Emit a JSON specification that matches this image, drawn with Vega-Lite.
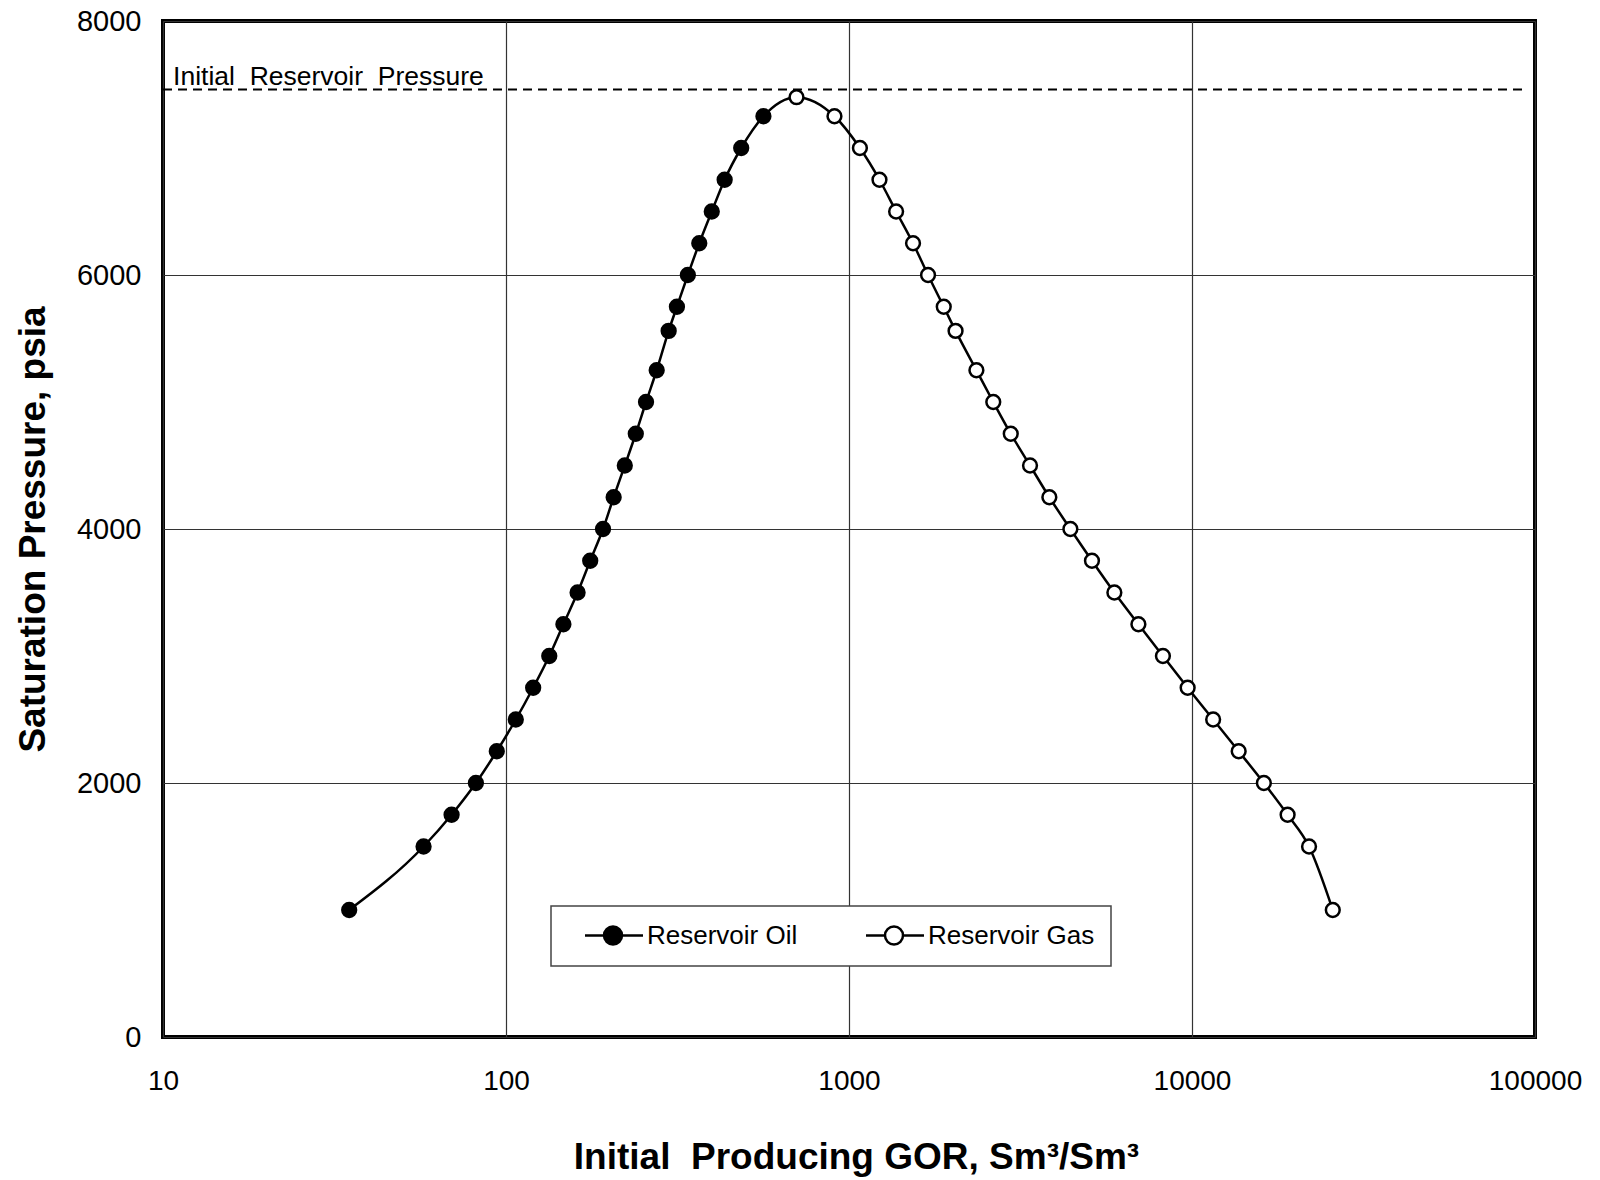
{
  "$schema": "https://vega.github.io/schema/vega-lite/v6.json",
  "width": 1372,
  "height": 1016,
  "autosize": {"type": "none"},
  "padding": {"left": 163, "top": 21, "right": 65, "bottom": 143},
  "background": "white",
  "config": {
    "font": "Liberation Sans",
    "view": {"stroke": "black", "strokeWidth": 4},
    "axis": {
      "labelFont": "Liberation Sans",
      "titleFont": "Liberation Sans",
      "labelColor": "black",
      "titleColor": "black",
      "labelFontSize": 28,
      "titleFontSize": 37,
      "titleFontWeight": "bold",
      "ticks": false,
      "domain": false,
      "grid": true,
      "gridColor": "#333333",
      "gridWidth": 1.2,
      "gridOpacity": 1
    }
  },
  "data": {
    "values": [
      {"fluid": "Reservoir Oil", "gor": 34.9, "p": 1000},
      {"fluid": "Reservoir Oil", "gor": 57.5, "p": 1500},
      {"fluid": "Reservoir Oil", "gor": 69.4, "p": 1750},
      {"fluid": "Reservoir Oil", "gor": 81.7, "p": 2000},
      {"fluid": "Reservoir Oil", "gor": 94, "p": 2250},
      {"fluid": "Reservoir Oil", "gor": 106.8, "p": 2500},
      {"fluid": "Reservoir Oil", "gor": 120, "p": 2750},
      {"fluid": "Reservoir Oil", "gor": 133.7, "p": 3000},
      {"fluid": "Reservoir Oil", "gor": 147, "p": 3250},
      {"fluid": "Reservoir Oil", "gor": 161.7, "p": 3500},
      {"fluid": "Reservoir Oil", "gor": 176, "p": 3750},
      {"fluid": "Reservoir Oil", "gor": 191.8, "p": 4000},
      {"fluid": "Reservoir Oil", "gor": 206, "p": 4250},
      {"fluid": "Reservoir Oil", "gor": 222, "p": 4500},
      {"fluid": "Reservoir Oil", "gor": 239, "p": 4750},
      {"fluid": "Reservoir Oil", "gor": 256, "p": 5000},
      {"fluid": "Reservoir Oil", "gor": 275, "p": 5250},
      {"fluid": "Reservoir Oil", "gor": 298, "p": 5560},
      {"fluid": "Reservoir Oil", "gor": 315, "p": 5750},
      {"fluid": "Reservoir Oil", "gor": 339, "p": 6000},
      {"fluid": "Reservoir Oil", "gor": 366, "p": 6250},
      {"fluid": "Reservoir Oil", "gor": 398, "p": 6500},
      {"fluid": "Reservoir Oil", "gor": 434, "p": 6750},
      {"fluid": "Reservoir Oil", "gor": 485, "p": 7000},
      {"fluid": "Reservoir Oil", "gor": 563, "p": 7250},
      {"fluid": "Reservoir Gas", "gor": 703, "p": 7400},
      {"fluid": "Reservoir Gas", "gor": 907, "p": 7250},
      {"fluid": "Reservoir Gas", "gor": 1076, "p": 7000},
      {"fluid": "Reservoir Gas", "gor": 1227, "p": 6750},
      {"fluid": "Reservoir Gas", "gor": 1372, "p": 6500},
      {"fluid": "Reservoir Gas", "gor": 1537, "p": 6250},
      {"fluid": "Reservoir Gas", "gor": 1700, "p": 6000},
      {"fluid": "Reservoir Gas", "gor": 1889, "p": 5750},
      {"fluid": "Reservoir Gas", "gor": 2045, "p": 5560},
      {"fluid": "Reservoir Gas", "gor": 2352, "p": 5250},
      {"fluid": "Reservoir Gas", "gor": 2634, "p": 5000},
      {"fluid": "Reservoir Gas", "gor": 2962, "p": 4750},
      {"fluid": "Reservoir Gas", "gor": 3371, "p": 4500},
      {"fluid": "Reservoir Gas", "gor": 3838, "p": 4250},
      {"fluid": "Reservoir Gas", "gor": 4420, "p": 4000},
      {"fluid": "Reservoir Gas", "gor": 5109, "p": 3750},
      {"fluid": "Reservoir Gas", "gor": 5938, "p": 3500},
      {"fluid": "Reservoir Gas", "gor": 6978, "p": 3250},
      {"fluid": "Reservoir Gas", "gor": 8227, "p": 3000},
      {"fluid": "Reservoir Gas", "gor": 9712, "p": 2750},
      {"fluid": "Reservoir Gas", "gor": 11525, "p": 2500},
      {"fluid": "Reservoir Gas", "gor": 13680, "p": 2250},
      {"fluid": "Reservoir Gas", "gor": 16200, "p": 2000},
      {"fluid": "Reservoir Gas", "gor": 19000, "p": 1750},
      {"fluid": "Reservoir Gas", "gor": 21940, "p": 1500},
      {"fluid": "Reservoir Gas", "gor": 25730, "p": 1000}
    ]
  },
  "encoding": {
    "x": {
      "field": "gor",
      "type": "quantitative",
      "scale": {"type": "log", "domain": [10, 100000], "nice": false},
      "axis": {
        "title": "Initial\u00a0 Producing GOR, Sm³/Sm³",
        "values": [10, 100, 1000, 10000, 100000],
        "format": "d",
        "labelPadding": 30,
        "labelFlush": false,
        "labelOverlap": false,
        "titleX": 693,
        "titleY": 131,
        "titleAlign": "center",
        "titleBaseline": "alphabetic"
      }
    },
    "y": {
      "field": "p",
      "type": "quantitative",
      "scale": {"domain": [0, 8000], "nice": false},
      "axis": {
        "title": "Saturation Pressure, psia",
        "values": [0, 2000, 4000, 6000, 8000],
        "format": "d",
        "labelPadding": 22,
        "labelFontSize": 29,
        "labelOverlap": false,
        "titleX": -119,
        "titleY": 508,
        "titleAngle": -90,
        "titleAlign": "center",
        "titleBaseline": "alphabetic"
      }
    }
  },
  "layer": [
    {
      "data": {"values": [{"gor": 10, "gor2": 94900, "p": 7460}]},
      "mark": {"type": "rule", "strokeDash": [9, 6], "strokeWidth": 2, "color": "black"},
      "encoding": {"x2": {"field": "gor2"}}
    },
    {
      "data": {"values": [{"gor": 10.7, "p": 7460, "label": "Initial\u00a0 Reservoir\u00a0 Pressure"}]},
      "mark": {"type": "text", "align": "left", "baseline": "alphabetic", "dy": -5, "fontSize": 26.5, "font": "Liberation Sans", "color": "black"},
      "encoding": {"text": {"field": "label"}}
    },
    {
      "mark": {"type": "line", "color": "black", "strokeWidth": 2.5, "interpolate": "monotone"}
    },
    {
      "mark": {"type": "point", "filled": true, "size": 190, "stroke": "black", "strokeWidth": 2.5, "opacity": 1},
      "encoding": {
        "fill": {
          "field": "fluid",
          "type": "nominal",
          "scale": {"domain": ["Reservoir Oil", "Reservoir Gas"], "range": ["black", "white"]},
          "legend": {
            "title": null,
            "orient": "none",
            "legendX": 388,
            "legendY": 885,
            "direction": "horizontal",
            "padding": 16,
            "columnPadding": 50,
            "labelOffset": 54,
            "labelFontSize": 26,
            "labelFont": "Liberation Sans",
            "labelColor": "black",
            "labelLimit": 400,
            "symbolSize": 400,
            "symbolType": "M0.5,0H2.4M4.2,0H6.3M2.4,0A0.9,0.9 0 1,1 4.2,0A0.9,0.9 0 1,1 2.4,0Z",
            "symbolStrokeColor": "black",
            "symbolStrokeWidth": 2.5,
            "symbolOpacity": 1,
            "strokeColor": "#444444",
            "fillColor": "white",
            "encode": {
              "legend": {"update": {"strokeWidth": {"value": 1.5}}},
              "symbols": {
                "update": {
                  "shape": {"value": "M0.5,0H2.4M4.2,0H6.3M2.4,0A0.9,0.9 0 1,1 4.2,0A0.9,0.9 0 1,1 2.4,0Z"},
                  "size": {"value": 400},
                  "stroke": {"value": "black"},
                  "strokeWidth": {"value": 2.5},
                  "opacity": {"value": 1}
                }
              }
            }
          }
        }
      }
    }
  ]
}
